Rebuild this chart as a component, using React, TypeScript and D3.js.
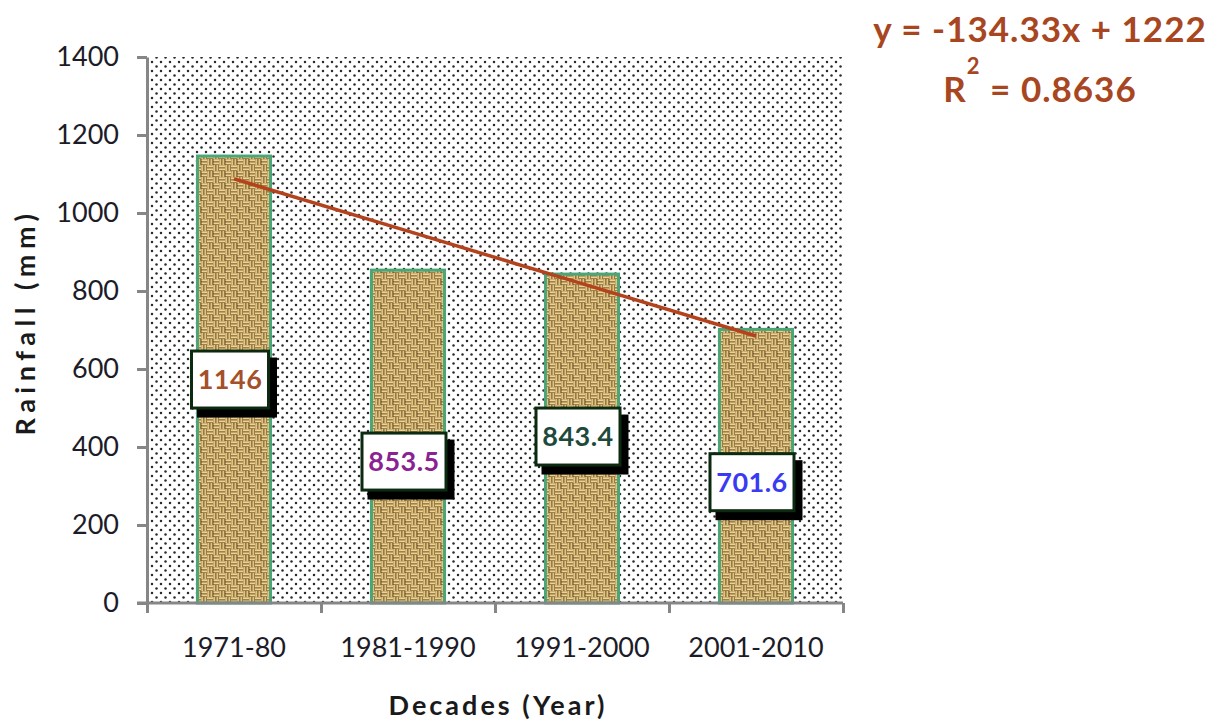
import React, { useEffect, useRef } from 'react';
import * as d3 from 'd3';

const decades = ['1971-80', '1981-1990', '1991-2000', '2001-2010'];
const rainfall = [1146, 853.5, 843.4, 701.6];
const labelColors = ['#a4502a', '#8a2391', '#1e4a3c', '#3a3af2'];
const yTicks = [0, 200, 400, 600, 800, 1000, 1200, 1400];
const trendSlope = -134.33;
const trendIntercept = 1222;
const rSquared = 0.8636;

const FONT = 'Lato, "Open Sans", sans-serif';

export default function App() {
  const ref = useRef<SVGSVGElement>(null);

  useEffect(() => {
    const el = ref.current;
    if (!el) return;
    const svg = d3.select(el);
    svg.selectAll('*').remove();

    const margin = {top: 57, right: 372, bottom: 119, left: 147};
    const width = 1215, height = 722;
    const innerW = width - margin.left - margin.right;
    const innerH = height - margin.top - margin.bottom;

    const x = d3.scaleBand<string>().domain(decades).range([0, innerW]).paddingInner(0.58).paddingOuter(0.29);
    const xEdge = d3.scaleLinear().domain([0, decades.length]).range([0, innerW]);
    const y = d3.scaleLinear().domain([0, 1400]).range([innerH, 0]);

    // patterns: dotted plot background + woven bar fill
    const defs = svg.append('defs');
    const dots = defs.append('pattern').attr('id', 'dots').attr('patternUnits', 'userSpaceOnUse')
      .attr('width', 9).attr('height', 9).attr('x', margin.left).attr('y', margin.top);
    dots.append('rect').attr('width', 9).attr('height', 9).attr('fill', '#fff');
    dots.append('circle').attr('cx', 2).attr('cy', 2).attr('r', 1.25).attr('fill', '#2a2a2a');
    dots.append('circle').attr('cx', 6.5).attr('cy', 6.5).attr('r', 1.25).attr('fill', '#2a2a2a');

    const weave = defs.append('pattern').attr('id', 'weave').attr('patternUnits', 'userSpaceOnUse')
      .attr('width', 12).attr('height', 12);
    weave.append('rect').attr('width', 12).attr('height', 12).attr('fill', '#b0904f');
    const cell = (cx: number, cy: number, horiz: boolean) => {
      [0.5, 3.5].forEach(o => {
        if (horiz) {
          weave.append('rect').attr('x', cx).attr('y', cy + o).attr('width', 6).attr('height', 2).attr('fill', '#ecd395');
          weave.append('rect').attr('x', cx).attr('y', cy + o + 2).attr('width', 6).attr('height', 1).attr('fill', '#6e5024');
        } else {
          weave.append('rect').attr('x', cx + o).attr('y', cy).attr('width', 2).attr('height', 6).attr('fill', '#e0c482');
          weave.append('rect').attr('x', cx + o + 2).attr('y', cy).attr('width', 1).attr('height', 6).attr('fill', '#654a20');
        }
      });
    };
    cell(0, 0, true); cell(6, 6, true); cell(6, 0, false); cell(0, 6, false);

    const g = svg.append('g').attr('transform', `translate(${margin.left},${margin.top})`);

    g.append('rect').attr('x', 2).attr('y', 0).attr('width', innerW - 2).attr('height', innerH).attr('fill', 'url(#dots)');

    // bars
    g.selectAll('rect.bar').data(rainfall).enter().append('rect').attr('class', 'bar')
      .attr('x', (d, i) => x(decades[i])!)
      .attr('y', d => y(d))
      .attr('width', x.bandwidth())
      .attr('height', d => innerH - y(d))
      .attr('fill', 'url(#weave)')
      .attr('stroke', '#4aa678').attr('stroke-width', 3);

    // linear trend line from the fitted equation
    const trend = decades.map((d, i) => ({cx: x(d)! + x.bandwidth() / 2, v: trendSlope * (i + 1) + trendIntercept}));
    const line = d3.line<{cx: number, v: number}>().x(d => d.cx).y(d => y(d.v));
    g.append('path').datum(trend).attr('d', line).attr('fill', 'none').attr('stroke', '#b4421c').attr('stroke-width', 3.5);

    // y axis
    const yAxis = g.append('g').call(d3.axisLeft(y).tickValues(yTicks).tickSize(10).tickSizeOuter(0).tickPadding(18).tickFormat(d3.format('d')));
    yAxis.select('.domain').attr('stroke', '#868686').attr('stroke-width', 3);
    yAxis.selectAll('.tick line').attr('stroke', '#868686').attr('stroke-width', 3);
    yAxis.selectAll('.tick text').attr('font-family', FONT).attr('font-size', 27).attr('fill', '#1c1c28');

    // x axis: boundary ticks + category labels
    const xTickAxis = g.append('g').attr('transform', `translate(0,${innerH})`)
      .call(d3.axisBottom(xEdge).tickValues(d3.range(decades.length + 1)).tickSize(10).tickSizeOuter(0).tickFormat(() => ''));
    xTickAxis.select('.domain').attr('d', `M-10,0H${innerW}`).attr('stroke', '#868686').attr('stroke-width', 3);
    xTickAxis.selectAll('.tick line').attr('stroke', '#868686').attr('stroke-width', 3);

    const xAxis = g.append('g').attr('transform', `translate(0,${innerH})`)
      .call(d3.axisBottom(x).tickSize(0).tickPadding(35));
    xAxis.select('.domain').remove();
    xAxis.selectAll('.tick text').attr('font-family', FONT).attr('font-size', 27).attr('fill', '#1c1c28');

    // data labels in boxes with drop shadow
    const labelShift = [0, 25, -2, 16];
    const labels = g.selectAll('g.lbl').data(rainfall).enter().append('g').attr('class', 'lbl')
      .attr('transform', (d, i) => `translate(${x(decades[i])! + x.bandwidth() / 2 - 4},${y(d / 2) + labelShift[i]})`);
    const boxW = (d: number) => {
      const s = String(d);
      return 24 + 14 * s.replace('.', '').length + 7 * (s.includes('.') ? 1 : 0);
    };
    const boxH = 60;
    labels.append('rect').attr('x', d => -boxW(d) / 2 + 7).attr('y', -boxH / 2 + 8)
      .attr('width', d => boxW(d)).attr('height', boxH).attr('fill', '#000');
    labels.append('rect').attr('x', d => -boxW(d) / 2 + 1.5).attr('y', -boxH / 2 + 1.5)
      .attr('width', d => boxW(d) - 3).attr('height', boxH - 3)
      .attr('fill', '#fff').attr('stroke', '#0c2a10').attr('stroke-width', 3);
    labels.append('text').attr('text-anchor', 'middle').attr('dy', '0.36em')
      .attr('font-family', FONT).attr('font-weight', 700).attr('font-size', 27).attr('letter-spacing', 0.5)
      .attr('fill', (d, i) => labelColors[i]).text(d => String(d));

    // axis titles
    svg.append('text').attr('x', margin.left + innerW / 2 + 3).attr('y', 715).attr('text-anchor', 'middle')
      .attr('font-family', FONT).attr('font-weight', 700).attr('font-size', 27).attr('letter-spacing', 3)
      .attr('fill', '#1a1a1a').text('Decades (Year)');
    svg.append('text').attr('transform', 'translate(35,322) rotate(-90)').attr('text-anchor', 'middle')
      .attr('font-family', FONT).attr('font-weight', 700).attr('font-size', 27).attr('letter-spacing', 5.5)
      .attr('fill', '#1a1a1a').text('Rainfall (mm)');

    // trend equation
    const eq = svg.append('text').attr('x', 1040).attr('y', 42).attr('text-anchor', 'middle')
      .attr('font-family', FONT).attr('font-weight', 700).attr('font-size', 35).attr('letter-spacing', 1)
      .attr('fill', '#a8461f');
    eq.text(`y = ${trendSlope}x + ${trendIntercept}`);
    const r2 = svg.append('text').attr('x', 1040).attr('y', 102).attr('text-anchor', 'middle')
      .attr('font-family', FONT).attr('font-weight', 700).attr('font-size', 35).attr('letter-spacing', 1)
      .attr('fill', '#a8461f');
    r2.append('tspan').text('R');
    r2.append('tspan').attr('dy', -28).attr('font-size', 22).text('2');
    r2.append('tspan').attr('dy', 28).text(` = ${rSquared}`);
  }, []);

  return (
    <svg ref={ref} width={1215} height={722}
      style={{position: 'absolute', left: 0, top: 0, background: '#fff'}} />
  );
}
